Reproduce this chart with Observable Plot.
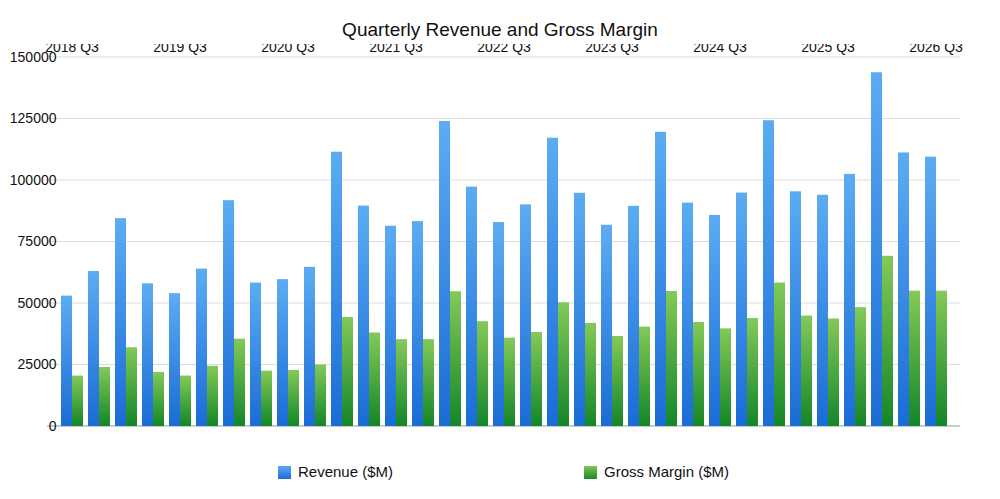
<!DOCTYPE html>
<html><head><meta charset="utf-8">
<script src="https://cdn.jsdelivr.net/npm/d3@7"></script>
<script src="https://cdn.jsdelivr.net/npm/@observablehq/plot@0.6"></script>
<style>
body{margin:0;background:#fff;font-family:"Helvetica Neue",Arial,"Liberation Sans",sans-serif;}
#title{height:44px;line-height:60px;text-align:center;font-size:19px;color:#111;}
#legend{position:relative;height:45px;font-size:15px;color:#111;}
.sw{position:absolute;top:12px;width:13px;height:13px;}
.lb{position:absolute;top:9px;}
</style></head><body>
<div id="title">Quarterly Revenue and Gross Margin</div>
<div id="chart"></div>
<div id="legend">
<div class="sw" style="left:278px;background:linear-gradient(#5aaaf2,#1b6fd8)"></div><div class="lb" style="left:298px">Revenue ($M)</div>
<div class="sw" style="left:584px;background:linear-gradient(#7fc654,#16892c)"></div><div class="lb" style="left:604px">Gross Margin ($M)</div>
</div>
<script>
const quarters = ["2018 Q3","2018 Q4","2019 Q1","2019 Q2","2019 Q3","2019 Q4","2020 Q1","2020 Q2","2020 Q3","2020 Q4","2021 Q1","2021 Q2","2021 Q3","2021 Q4","2022 Q1","2022 Q2","2022 Q3","2022 Q4","2023 Q1","2023 Q2","2023 Q3","2023 Q4","2024 Q1","2024 Q2","2024 Q3","2024 Q4","2025 Q1","2025 Q2","2025 Q3","2025 Q4","2026 Q1","2026 Q2","2026 Q3"];
const revenue = [53000,63000,84500,58000,54000,64000,91800,58300,59700,64700,111500,89600,81400,83300,124000,97300,82900,90100,117200,94800,81800,89500,119600,90800,85800,94900,124300,95400,94000,102500,143800,111200,109500];
const grossMargin = [20500,24000,32000,22000,20500,24500,35500,22500,22800,25000,44300,38000,35300,35300,54800,42600,35900,38200,50300,41900,36600,40400,54900,42300,39700,43900,58300,44900,43700,48300,69200,55000,55000];
const yTicks = [0,25000,50000,75000,100000,125000,150000];
const xLabels = ["2018 Q3","2019 Q3","2020 Q3","2021 Q3","2022 Q3","2023 Q3","2024 Q3","2025 Q3","2026 Q3"];

const data = [];
quarters.forEach((q,i)=>{
  data.push({q, s:"Revenue", v:revenue[i]});
  data.push({q, s:"Gross Margin", v:grossMargin[i]});
});
const W = 1000, ML = 47, MR = 40;
const chart = Plot.plot({
  width:W, height:410,
  marginLeft:ML, marginRight:MR, marginTop:13, marginBottom:28,
  style:{fontSize:"14px", fontFamily:"'Helvetica Neue',Arial,'Liberation Sans',sans-serif", color:"#111"},
  fx:{domain:quarters, paddingInner:0.14, paddingOuter:0.2, label:null},
  x:{domain:["Revenue","Gross Margin"], padding:0, axis:null},
  y:{domain:[0,150000], ticks:yTicks, label:null, grid:false},
  marks:[
    Plot.axisY({ticks:yTicks, tickSize:0, tickPadding:4, label:null, tickFormat:d=>String(d), fontSize:14}),
    Plot.barY(data, {fx:"q", x:"s", y:"v", fill:d=>d.s==="Revenue"?"url(#gBlue)":"url(#gGreen)"}),
    Plot.axisFx({ticks:xLabels, tickSize:0, tickPadding:6, label:null, fontSize:14})
  ]
});
chart.setAttribute("overflow","hidden");
const svg = d3.select(chart);
const defs = svg.insert("defs",":first-child");
function grad(id,a,b){
  const g = defs.append("linearGradient").attr("id",id).attr("x1",0).attr("y1",0).attr("x2",0).attr("y2",1);
  g.append("stop").attr("offset","0%").attr("stop-color",a);
  g.append("stop").attr("offset","100%").attr("stop-color",b);
}
grad("gBlue","#5cacf3","#1a6cd6");
grad("gGreen","#84c957","#138629");
const ys = chart.scale("y");
const grid = svg.insert("g","defs + *");
yTicks.forEach(t=>{
  grid.append("line").attr("x1",ML).attr("x2",W-MR).attr("y1",ys.apply(t)).attr("y2",ys.apply(t))
    .attr("stroke", t===0?"#999":"#ddd");
});
document.getElementById("chart").appendChild(chart);
</script>
</body></html>
